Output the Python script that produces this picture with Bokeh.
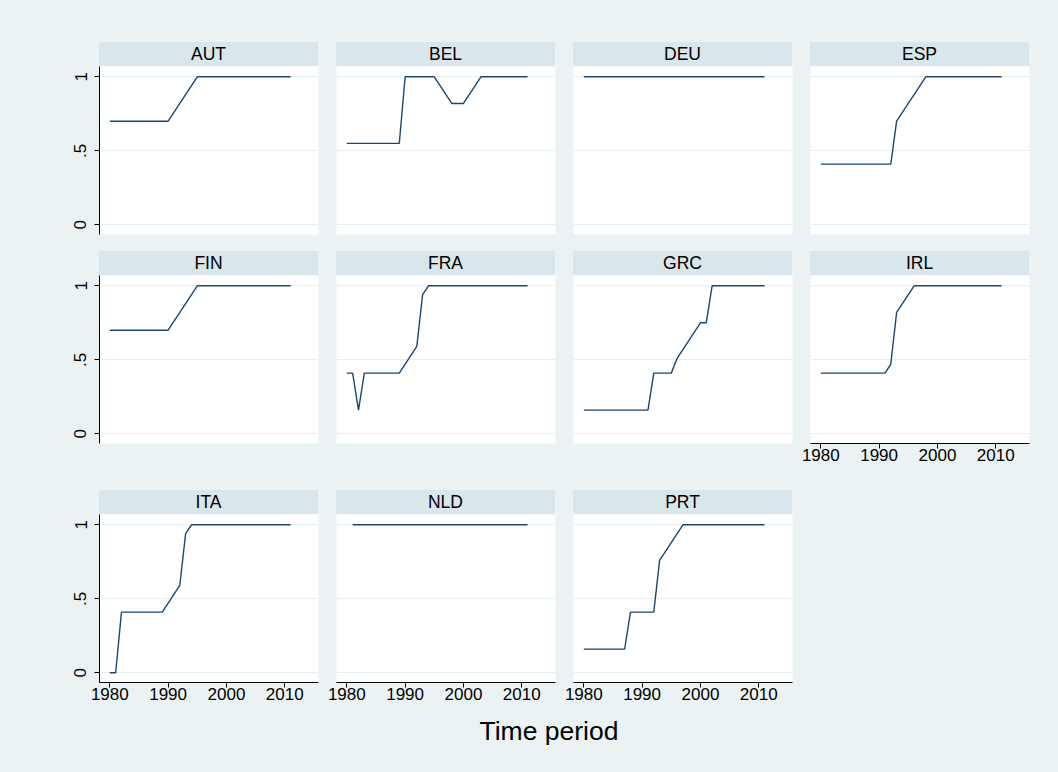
from bokeh.plotting import figure
from bokeh.layouts import row, column
from bokeh.models import Div, Spacer, LinearAxis, FixedTicker, Grid, Range1d
from bokeh.embed import file_html
from bokeh.resources import INLINE

# ---- data (vertices of each country's line) ----
aut_years = [1980, 1990, 1995, 2011]
aut_vals = [0.70, 0.70, 1.00, 1.00]
bel_years = [1980, 1989, 1990, 1995, 1998, 2000, 2003, 2011]
bel_vals = [0.55, 0.55, 1.00, 1.00, 0.82, 0.82, 1.00, 1.00]
deu_years = [1980, 2011]
deu_vals = [1.00, 1.00]
esp_years = [1980, 1992, 1993, 1998, 2011]
esp_vals = [0.41, 0.41, 0.70, 1.00, 1.00]
fin_years = [1980, 1990, 1995, 2011]
fin_vals = [0.70, 0.70, 1.00, 1.00]
fra_years = [1980, 1981, 1982, 1983, 1989, 1992, 1993, 1994, 2011]
fra_vals = [0.41, 0.41, 0.16, 0.41, 0.41, 0.59, 0.94, 1.00, 1.00]
grc_years = [1980, 1991, 1992, 1995, 1996, 2000, 2001, 2002, 2011]
grc_vals = [0.16, 0.16, 0.41, 0.41, 0.51, 0.75, 0.75, 1.00, 1.00]
irl_years = [1980, 1991, 1992, 1993, 1996, 2011]
irl_vals = [0.41, 0.41, 0.47, 0.82, 1.00, 1.00]
ita_years = [1980, 1981, 1982, 1989, 1992, 1993, 1994, 2011]
ita_vals = [0.00, 0.00, 0.41, 0.41, 0.59, 0.94, 1.00, 1.00]
nld_years = [1981, 2011]
nld_vals = [1.00, 1.00]
prt_years = [1980, 1987, 1988, 1992, 1993, 1997, 2011]
prt_vals = [0.16, 0.16, 0.41, 0.41, 0.76, 1.00, 1.00]

x_ticks = [1980, 1990, 2000, 2010]
y_ticks = [0, 0.5, 1]
y_tick_labels = {0: "0", 0.5: ".5", 1: "1"}
x_title = "Time period"

# ---- styling ----
BG = "#eaf2f3"
STRIP = "#d9e6eb"
GRID = "#e6eef1"
LINE = "#1a476f"
FONT = "Liberation Sans"

X_RANGE = (1978.23, 2015.79)
Y_RANGE = (-0.0655, 1.0696)
FRAME_W = 219


def make_panel(name, yrs, vals, left_border, fig_h, bottom_border, y_axis, x_axis):
    p = figure(width=left_border + FRAME_W + 9, height=fig_h,
               x_range=Range1d(*X_RANGE), y_range=Range1d(*Y_RANGE),
               x_axis_location=None, y_axis_location=None,
               toolbar_location=None, output_backend="svg",
               min_border_left=left_border, min_border_right=9,
               min_border_top=0, min_border_bottom=bottom_border,
               background_fill_color="white", border_fill_color=BG,
               outline_line_color=None, margin=0)
    for r in list(p.center):
        if isinstance(r, Grid):
            r.visible = False
    p.add_layout(Grid(dimension=1, ticker=FixedTicker(ticks=y_ticks),
                      grid_line_color=GRID, grid_line_width=1), "center")
    p.line(yrs, vals, line_color=LINE, line_width=1.4)
    if y_axis:
        ax = LinearAxis(ticker=FixedTicker(ticks=y_ticks),
                        major_label_overrides=y_tick_labels,
                        major_label_orientation="vertical",
                        major_label_text_font=FONT,
                        major_label_text_font_size="17px",
                        major_label_text_color="black",
                        major_label_standoff=8,
                        axis_line_color="black", axis_line_width=1,
                        major_tick_line_color="black", major_tick_out=5,
                        major_tick_in=0, minor_tick_line_color=None)
        p.add_layout(ax, "left")
    if x_axis:
        ax = LinearAxis(ticker=FixedTicker(ticks=x_ticks),
                        major_label_text_font=FONT,
                        major_label_text_font_size="17px",
                        major_label_text_color="black",
                        major_label_standoff=0,
                        axis_line_color="black", axis_line_width=1,
                        major_tick_line_color="black", major_tick_out=5,
                        major_tick_in=0, minor_tick_line_color=None)
        p.add_layout(ax, "below")
    header = Div(text=name, width=FRAME_W, height=24, margin=0,
                 styles={"background-color": STRIP, "text-align": "center",
                         "font-family": FONT, "font-size": "17.5px",
                         "line-height": "24px", "color": "black"})
    head_row = row(Spacer(width=left_border, height=24, margin=0), header,
                   Spacer(width=9, height=24, margin=0), margin=0, spacing=0)
    return column(head_row, p, margin=0, spacing=0)


rows_spec = [
    (185, 17, [("AUT", aut_years, aut_vals, True, False),
               ("BEL", bel_years, bel_vals, False, False),
               ("DEU", deu_years, deu_vals, False, False),
               ("ESP", esp_years, esp_vals, False, False)]),
    (215, 47, [("FIN", fin_years, fin_vals, True, False),
               ("FRA", fra_years, fra_vals, False, False),
               ("GRC", grc_years, grc_vals, False, False),
               ("IRL", irl_years, irl_vals, False, True)]),
    (202, 34, [("ITA", ita_years, ita_vals, True, True),
               ("NLD", nld_years, nld_vals, False, True),
               ("PRT", prt_years, prt_vals, False, True)]),
]

rows = []
for fig_h, bb, cells in rows_spec:
    cols = []
    for i, (name, yrs, vals, ya, xa) in enumerate(cells):
        lb = 99 if i == 0 else 9
        cols.append(make_panel(name, yrs, vals, lb, fig_h, bb, ya, xa))
    rows.append(row(*cols, margin=0, spacing=0))

title = Div(text=x_title, width=200, height=40, margin=0,
            styles={"text-align": "center", "font-family": FONT,
                    "font-size": "26.5px", "line-height": "30px",
                    "color": "black", "white-space": "nowrap"})
title_row = row(Spacer(width=449, height=40, margin=0), title, margin=0, spacing=0)

layout = column(Spacer(width=1038, height=42, margin=0), *rows, title_row,
                margin=0, spacing=0)

html = file_html(layout, INLINE)
html = html.replace("</head>", "<style>body{background-color:%s;}</style></head>" % BG, 1)
open("out.html", "w").write(html)
